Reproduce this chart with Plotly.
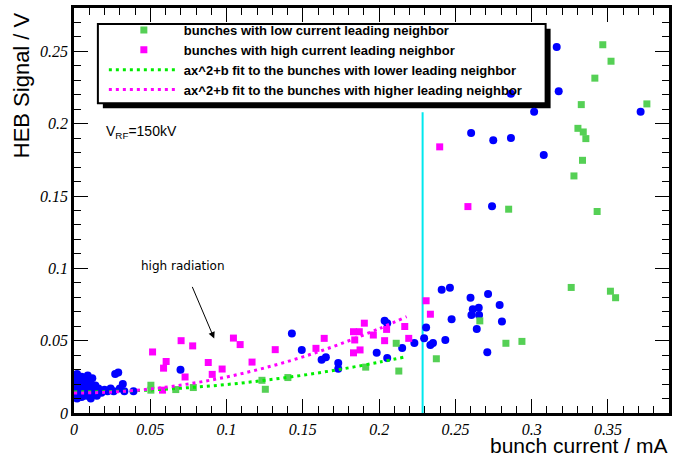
import plotly.graph_objects as go

# ---------------- data ----------------
blue_x = [0.001, 0.001, 0.001, 0.001, 0.002, 0.002, 0.002, 0.003, 0.003, 0.004,
          0.004, 0.005, 0.005, 0.006, 0.006, 0.007, 0.007, 0.008, 0.009, 0.009,
          0.010, 0.010, 0.011, 0.012, 0.012, 0.013, 0.014, 0.015, 0.016, 0.018,
          0.020, 0.022, 0.024, 0.026, 0.027, 0.029, 0.030, 0.032, 0.033, 0.039,
          0.0698, 0.1428, 0.1493, 0.1623, 0.1651, 0.1732, 0.1732, 0.1984, 0.2053,
          0.2036, 0.2053, 0.2151, 0.2231, 0.2295, 0.2308, 0.2336, 0.2353, 0.2434,
          0.2410, 0.2464, 0.2599, 0.2714, 0.2614, 0.2653, 0.2605, 0.2655, 0.2790,
          0.2475, 0.2640, 0.2805, 0.2709,
          0.3164, 0.3177, 0.2864, 0.3016, 0.3714, 0.2603, 0.2748, 0.2864, 0.3079, 0.2740]
blue_y = [0.012, 0.015, 0.018, 0.021, 0.024, 0.027, 0.010, 0.013, 0.016, 0.019,
          0.022, 0.011, 0.025, 0.014, 0.017, 0.020, 0.023, 0.012, 0.015, 0.026,
          0.018, 0.021, 0.010, 0.013, 0.024, 0.016, 0.019, 0.012, 0.017, 0.014,
          0.016, 0.015, 0.017, 0.015, 0.027, 0.028, 0.017, 0.020, 0.015, 0.015,
          0.0299, 0.0550, 0.0436, 0.0368, 0.0386, 0.0345, 0.0306, 0.0416, 0.0381,
          0.0637, 0.0621, 0.0450, 0.0484, 0.0516, 0.0591, 0.0470, 0.0484, 0.0505,
          0.0852, 0.0866, 0.0797, 0.0822, 0.0717, 0.0728, 0.0678, 0.0678, 0.0747,
          0.0649, 0.0580, 0.0632, 0.0420,
          0.2530, 0.2224, 0.2208, 0.2082, 0.2082, 0.1936, 0.1886, 0.1902, 0.1783, 0.1429]

green_x = [0.0504, 0.0504, 0.0667, 0.0782, 0.1232, 0.1254, 0.1402, 0.1912, 0.2112,
           0.2129, 0.2375, 0.2660, 0.2831, 0.2936, 0.2849,
           0.3466, 0.3520, 0.3414, 0.3325, 0.3755, 0.3303, 0.3338, 0.3355, 0.3333,
           0.3277, 0.3429, 0.3259, 0.3516, 0.3550]
green_y = [0.0192, 0.0158, 0.0162, 0.0176, 0.0226, 0.0164, 0.0245, 0.0317, 0.0482,
           0.0290, 0.0375, 0.0637, 0.0482, 0.0495, 0.1409,
           0.2546, 0.2432, 0.2315, 0.2132, 0.2137, 0.1968, 0.1943, 0.1897, 0.1747,
           0.1639, 0.1393, 0.0868, 0.0842, 0.0797]

magenta_x = [0.0515, 0.0604, 0.0587, 0.0728, 0.0580, 0.0702, 0.0778, 0.0880, 0.0906,
             0.0971, 0.1045, 0.1089, 0.1167, 0.1319, 0.1586, 0.1640, 0.1832, 0.1870,
             0.1903, 0.1840, 0.1832, 0.1875, 0.1962, 0.2049, 0.2036, 0.2168, 0.2194,
             0.2308, 0.2336, 0.2397, 0.2582]
magenta_y = [0.0422, 0.0356, 0.0310, 0.0249, 0.0158, 0.0500, 0.0464, 0.0349, 0.0267,
             0.0304, 0.0518, 0.0473, 0.0352, 0.0438, 0.0447, 0.0516, 0.0562, 0.0562,
             0.0621, 0.0505, 0.0416, 0.0436, 0.0539, 0.0578, 0.0500, 0.0598, 0.0516,
             0.0776, 0.0683, 0.1840, 0.1427]

# fit curves
fit_x = [0.0, 0.025, 0.05, 0.075, 0.1, 0.125, 0.15, 0.175, 0.2, 0.218]
fit_low_y = [0.0146, 0.0149, 0.0159, 0.0175, 0.0197, 0.0226, 0.0261, 0.0303, 0.0351, 0.0390]
fit_high_y = [0.0138, 0.0145, 0.0166, 0.0201, 0.0249, 0.0312, 0.0388, 0.0479, 0.0583, 0.0666]

# vertical marker line (visible part, ends under the legend)
threshold_x = [0.2285, 0.2285]
threshold_y = [0.0, 0.208]

x_tickvals = [0, 0.05, 0.1, 0.15, 0.2, 0.25, 0.3, 0.35]
x_ticktext = ["0", "0.05", "0.1", "0.15", "0.2", "0.25", "0.3", "0.35"]
y_tickvals = [0, 0.05, 0.1, 0.15, 0.2, 0.25]
y_ticktext = ["0", "0.05", "0.1", "0.15", "0.2", "0.25"]

# ---------------- figure ----------------
W, H = 677, 457
ML, MR, MT, MB = 74, 5, 5, 44
PW, PH = W - ML - MR, H - MT - MB


def px(xp):
    return (xp - ML) / PW


def py(yp):
    return (H - MB - yp) / PH


fig = go.Figure()

fig.add_trace(go.Scatter(x=threshold_x, y=threshold_y,
                         mode="lines", line=dict(color="#00e8ee", width=2),
                         showlegend=False, hoverinfo="skip"))

fig.add_trace(go.Scatter(x=blue_x, y=blue_y, mode="markers",
                         marker=dict(symbol="circle", size=8, color="#0000ff"),
                         showlegend=False))
fig.add_trace(go.Scatter(x=green_x, y=green_y, mode="markers",
                         name="bunches with low current leading neighbor",
                         marker=dict(symbol="square", size=7, color="#55d055")))
fig.add_trace(go.Scatter(x=magenta_x, y=magenta_y, mode="markers",
                         name="bunches with high current leading neighbor",
                         marker=dict(symbol="square", size=7, color="#ff00ff")))
fig.add_trace(go.Scatter(x=fit_x, y=fit_low_y, mode="lines", line_shape="spline",
                         name="ax^2+b fit to the bunches with lower leading neighbor",
                         line=dict(color="#00ee00", width=3, dash="3px,4px")))
fig.add_trace(go.Scatter(x=fit_x, y=fit_high_y, mode="lines", line_shape="spline",
                         name="ax^2+b fit to the bunches with higher leading neighbor",
                         line=dict(color="#ff00ff", width=3, dash="3px,4px")))

axis_common = dict(
    showgrid=False, zeroline=False, showline=True, linecolor="black", linewidth=2.5,
    mirror="allticks", ticks="inside", ticklen=14, tickwidth=1, tickcolor="black",
    minor=dict(ticks="inside", ticklen=7, tickwidth=1, tickcolor="black", dtick=0.01),
    tickfont=dict(family="Liberation Serif", size=16, color="black", style="italic"),
)

fig.update_xaxes(range=[0, 0.39], tickmode="array", tickvals=x_tickvals,
                 ticktext=x_ticktext, **axis_common)
fig.update_yaxes(range=[0, 0.28], tickmode="array", tickvals=y_tickvals,
                 ticktext=y_ticktext, **axis_common)

# legend frame (ROOT style box with drop shadow), drawn under the markers
fig.add_shape(type="rect", xref="paper", yref="paper",
              x0=px(103), x1=px(553), y0=py(106), y1=py(26),
              fillcolor="black", line=dict(width=0), layer="between")
fig.add_shape(type="rect", xref="paper", yref="paper",
              x0=px(98), x1=px(548), y0=py(101), y1=py(21),
              fillcolor="white", line=dict(color="black", width=2), layer="between")

fig.update_layout(
    width=W, height=H,
    margin=dict(l=ML, r=MR, t=MT, b=MB),
    paper_bgcolor="white", plot_bgcolor="white",
    font=dict(family="Liberation Sans", color="black"),
    legend=dict(x=px(104), y=py(12), xanchor="left", yanchor="top",
                bgcolor="rgba(0,0,0,0)", borderwidth=0,
                font=dict(family="Liberation Sans", size=13, weight="bold"),
                itemwidth=70, tracegroupgap=0),
    annotations=[
        dict(text="bunch current / mA", xref="paper", yref="paper",
             x=1.0, y=py(446), xanchor="right", yanchor="middle", showarrow=False,
             font=dict(family="Liberation Sans", size=21)),
        dict(text="HEB Signal / V", xref="paper", yref="paper",
             x=px(22), y=py(7), xanchor="center", yanchor="top", textangle=-90,
             showarrow=False, font=dict(family="Liberation Sans", size=22)),
        dict(text="V<sub>RF</sub>=150kV", xref="paper", yref="paper",
             x=px(104), y=py(130), xanchor="left", yanchor="middle", showarrow=False,
             font=dict(family="Liberation Sans", size=14)),
        dict(text="high radiation", x=0.0919, y=0.0515, xref="x", yref="y",
             ax=-31, ay=-73, showarrow=True, arrowhead=2, arrowsize=1.3,
             arrowwidth=1, arrowcolor="black", startstandoff=14,
             font=dict(family="DejaVu Sans", size=12)),
    ],
)

fig.write_html("out.html")
